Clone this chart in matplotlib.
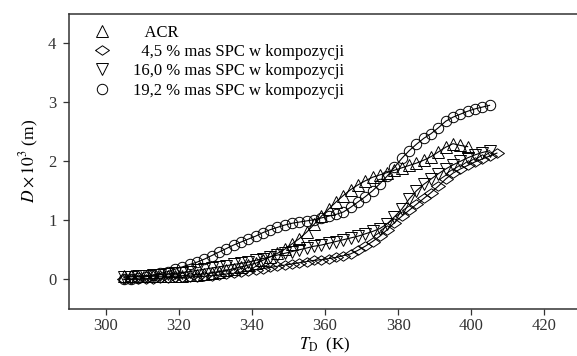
import matplotlib
matplotlib.use("Agg")
import matplotlib.pyplot as plt

plt.rcParams['font.family'] = ['Liberation Serif', 'DejaVu Serif']
plt.rcParams['mathtext.fontset'] = 'stix'

# --- DATA ---
t_acr = [305, 307, 309, 311, 313, 315, 317, 319, 321, 323, 325, 327, 329, 331, 333, 335,
         337, 339, 341, 343, 345, 347, 349, 351, 353, 355, 357, 359, 361, 363, 365, 367,
         369, 371, 373, 375, 377, 379, 381, 383, 385, 387, 389, 391, 393, 395, 397, 399]
d_acr = [0.05, 0.05, 0.05, 0.05, 0.05, 0.05, 0.05, 0.05, 0.06, 0.07, 0.08, 0.09, 0.11, 0.13, 0.15, 0.18,
         0.21, 0.24, 0.27, 0.32, 0.38, 0.44, 0.51, 0.60, 0.69, 0.80, 0.93, 1.07, 1.19, 1.31, 1.42, 1.52,
         1.60, 1.67, 1.73, 1.77, 1.81, 1.85, 1.89, 1.93, 1.97, 2.02, 2.08, 2.16, 2.24, 2.30, 2.27, 2.25]

t_45 = [305, 307, 309, 311, 313, 315, 317, 319, 321, 323, 325, 327, 329, 331, 333, 335,
        337, 339, 341, 343, 345, 347, 349, 351, 353, 355, 357, 359, 361, 363, 365, 367,
        369, 371, 373, 375, 377, 379, 381, 383, 385, 387, 389, 391, 393, 395, 397, 399,
        401, 403, 405, 407]
d_45 = [0.00, 0.00, 0.00, 0.01, 0.01, 0.02, 0.02, 0.03, 0.03, 0.04, 0.04, 0.05, 0.06, 0.07, 0.09, 0.10,
        0.12, 0.14, 0.16, 0.18, 0.20, 0.22, 0.24, 0.26, 0.28, 0.30, 0.32, 0.33, 0.35, 0.37, 0.40, 0.43,
        0.49, 0.56, 0.64, 0.73, 0.84, 0.96, 1.07, 1.17, 1.27, 1.37, 1.47, 1.58, 1.70, 1.80, 1.87, 1.93,
        1.99, 2.04, 2.09, 2.14]

t_160 = [305, 307, 309, 311, 313, 315, 317, 319, 321, 323, 325, 327, 329, 331, 333, 335,
         337, 339, 341, 343, 345, 347, 349, 351, 353, 355, 357, 359, 361, 363, 365, 367,
         369, 371, 373, 375, 377, 379, 381, 383, 385, 387, 389, 391, 393, 395, 397, 399,
         401, 403, 405]
d_160 = [0.03, 0.04, 0.05, 0.06, 0.07, 0.08, 0.09, 0.10, 0.11, 0.13, 0.15, 0.17, 0.19, 0.21, 0.23, 0.25,
         0.27, 0.29, 0.32, 0.35, 0.38, 0.41, 0.44, 0.47, 0.50, 0.53, 0.56, 0.58, 0.61, 0.64, 0.67, 0.70,
         0.73, 0.77, 0.81, 0.86, 0.94, 1.06, 1.19, 1.36, 1.50, 1.61, 1.70, 1.79, 1.87, 1.94, 2.00, 2.06,
         2.11, 2.15, 2.18]

t_192 = [305, 307, 309, 311, 313, 315, 317, 319, 321, 323, 325, 327, 329, 331, 333, 335,
         337, 339, 341, 343, 345, 347, 349, 351, 353, 355, 357, 359, 361, 363, 365, 367,
         369, 371, 373, 375, 377, 379, 381, 383, 385, 387, 389, 391, 393, 395, 397, 399,
         401, 403, 405]
d_192 = [0.00, 0.00, 0.02, 0.04, 0.07, 0.10, 0.13, 0.17, 0.21, 0.25, 0.29, 0.34, 0.40, 0.46, 0.52, 0.58,
         0.63, 0.68, 0.73, 0.79, 0.84, 0.88, 0.92, 0.95, 0.97, 0.99, 1.01, 1.04, 1.07, 1.10, 1.14, 1.22,
         1.31, 1.40, 1.50, 1.62, 1.75, 1.90, 2.05, 2.18, 2.29, 2.39, 2.47, 2.57, 2.68, 2.75, 2.80, 2.85,
         2.89, 2.92, 2.95]

labels = ["   ACR",
          "  4,5 % mas SPC w kompozycji",
          "16,0 % mas SPC w kompozycji",
          "19,2 % mas SPC w kompozycji"]

x_ticks = [300, 320, 340, 360, 380, 400, 420]
y_ticks = [0, 1, 2, 3, 4]

# wide diamond, like the one in the original
diamond = [(-1.0, 0.0), (0.0, 0.68), (1.0, 0.0), (0.0, -0.68), (-1.0, 0.0)]

# --- FIGURE ---
fig = plt.figure(figsize=(5.77, 3.56), dpi=100)
ax = fig.add_axes([69 / 577, 47.3 / 356, 512 / 577, 294.7 / 356])

series = [(t_acr, d_acr, '^', 8), (t_45, d_45, diamond, 10), (t_160, d_160, 'v', 8), (t_192, d_192, 'o', 7.5)]
for (t, d, m, ms), lab in zip(series, labels):
    ax.plot(t, d, color='k', lw=0.8, marker=m, ms=ms, mfc='none', mec='k', mew=0.7, label=lab)

ax.set_xlim(290, 430)
ax.set_ylim(-0.5, 4.5)
ax.set_xticks(x_ticks)
ax.set_yticks(y_ticks)

for s in ['left', 'bottom', 'top']:
    ax.spines[s].set_color('#333333')
    ax.spines[s].set_linewidth(1.1)
ax.spines['right'].set_visible(False)
ax.tick_params(axis='both', colors='#333333', labelsize=12, length=4, width=0.9)
ax.tick_params(axis='y', pad=5)
ax.tick_params(axis='x', pad=3)

ax.set_xlabel(r'$T_\mathrm{D}$  (K)', fontsize=12, labelpad=1)
ax.set_ylabel(r'$D\times10^3$ (m)', fontsize=12.5, labelpad=5)

leg = ax.legend(loc='upper left', bbox_to_anchor=(0.0156, 0.964), frameon=False, fontsize=12,
                borderaxespad=0, borderpad=0, handlelength=3, handletextpad=0.36, labelspacing=0.2)
for h in leg.legend_handles:
    h.set_linestyle('none')

fig.savefig('out.png', dpi=100)
